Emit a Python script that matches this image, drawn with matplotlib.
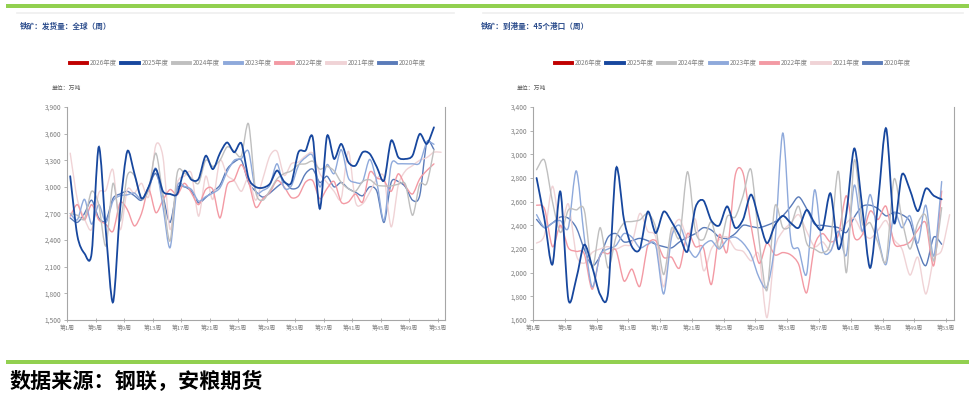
"""Iron ore weekly shipments (global) and arrivals (45 ports), seasonal lines by year."""

import matplotlib
import matplotlib.pyplot as plt
from matplotlib.lines import Line2D
from matplotlib.patches import PathPatch, Rectangle
from matplotlib.path import Path
from matplotlib.ticker import FuncFormatter, MultipleLocator

matplotlib.use("Agg")
plt.rcParams["font.family"] = ["Noto Sans CJK SC", "DejaVu Sans"]

YEARS = ["2026年度", "2025年度", "2024年度", "2023年度", "2022年度", "2021年度", "2020年度"]
COLORS = ["#C00000", "#17479E", "#BFBFBF", "#8EA9DB", "#F39AA4", "#F0D3D6", "#5A7BB9"]
WEEK_TICKS = list(range(1, 54, 4))
WEEK_LABELS = [f"第{w}周" for w in WEEK_TICKS]

# 发货量：全球（万吨）
ship_2026 = []
ship_2025 = [3120, 2450, 2250, 2250, 3450, 2500, 1700, 2750, 3400, 3150,
             2870, 3000, 3200, 2950, 2920, 2920, 3180, 3080, 3090, 3350,
             3200, 3380, 3500, 3390, 3490, 3100, 3000, 2990, 3035, 3184,
             3060, 3046, 3390, 3409, 3559, 2753, 3570, 3315, 3484, 3278,
             3240, 3390, 3372, 3222, 3072, 3521, 3334, 3315, 3353, 3596,
             3484, 3671]
ship_2024 = [2700, 2680, 2640, 2950, 2800, 2335, 3040, 2615, 3125, 3125,
             2860, 2970, 3380, 2900, 2390, 3155, 3155, 3100, 3040, 3300,
             3230, 3300, 3450, 3400, 3350, 3710, 2950, 2850, 2960, 3090,
             3150, 3180, 3250, 3260, 3290, 3200, 3230, 3180, 3050, 2980,
             2950, 3060, 3080, 3020, 3010, 3010, 3030, 3030, 2680, 3030,
             3040, 3420]
ship_2023 = [2700, 2630, 2860, 2580, 2800, 2600, 2840, 2900, 2910, 2930,
             2860, 2970, 3210, 2780, 2315, 3000, 3005, 2970, 2840, 2890,
             2930, 2990, 3170, 3300, 3320, 3400, 2950, 2960, 3020, 3260,
             2990, 3010, 3240, 3330, 3350, 3000, 3250, 3150, 3420, 3100,
             3050, 3060, 3310, 3050, 2620, 3250, 3260, 3260, 3260, 3270,
             3500, 3480]
ship_2022 = [2670, 2800, 2630, 2800, 2630, 2580, 2500, 2820, 2745, 2560,
             2700, 2970, 2710, 2850, 2970, 2910, 3040, 2930, 2800, 2970,
             2970, 2650, 3020, 3080, 3250, 3060, 2772, 2866, 2940, 3072,
             3000, 2880, 2900, 3053, 3070, 2866, 2980, 3060, 2828, 2830,
             2920, 2830, 3165, 3100, 3070, 2950, 3147, 3010, 2920, 3090,
             3184, 3259]
ship_2021 = [3380, 2860, 2640, 2520, 2930, 2960, 3190, 2520, 2970, 2930,
             3040, 2890, 3470, 3340, 2520, 3040, 3120, 3150, 2670, 3120,
             2860, 3300, 3130, 3070, 2950, 3100, 2850, 3090, 3350, 3400,
             3130, 3260, 3280, 3350, 3380, 3150, 3050, 2950, 2870, 3400,
             2830, 2810, 2940, 3090, 3110, 2550, 3020, 3180, 3240, 3300,
             3330, 3390, 3390]
ship_2020 = [2650, 2600, 2700, 2850, 2650, 2620, 2870, 2920, 2950, 2900,
             2850, 3000, 3150, 2900, 2600, 2980, 3000, 2950, 2820, 2880,
             2950, 3020, 3200, 3280, 3300, 3050, 2950, 2885, 2930, 3000,
             3050, 2980, 3000, 3150, 3200, 3050, 3120, 3000, 3050, 2980,
             2940, 2900, 3000, 2950, 2600, 3050, 3060, 3000, 2850, 2900,
             3500, 3420]

# 到港量：45个港口（万吨）
arrive_2026 = []
arrive_2025 = [2800, 2450, 2070, 2685, 1775, 1950, 2236, 2050, 1815, 1830,
               2880, 2450, 2220, 2200, 2516, 2335, 2516, 2430, 2310, 2180,
               2550, 2610, 2440, 2400, 2560, 2380, 2450, 2660, 2450, 2250,
               2400, 2480, 2420, 2380, 2530, 2420, 2370, 2670, 2200, 2500,
               3050, 2550, 2040, 2600, 3220, 2420, 2830, 2700, 2520, 2710,
               2650, 2620]
arrive_2024 = [2870, 2950, 2600, 2340, 2530, 2530, 2530, 2040, 2380, 2040,
               2300, 2420, 2432, 2446, 2500, 2380, 1984, 2376, 2300, 2853,
               2350, 2280, 2430, 2210, 2474, 2470, 2650, 2870, 2280, 1850,
               2560, 2380, 2400, 2560, 2250, 2200, 2170, 2260, 2856, 2000,
               2950, 2420, 2420, 2250, 2100, 2790, 2450, 2200, 2420, 2480,
               2100, 2550]
arrive_2023 = [2490, 2380, 2420, 2440, 2380, 2860, 2300, 1880, 2150, 2200,
               2230, 2330, 2300, 2210, 2240, 2230, 1820, 2300, 2400, 2220,
               2130, 2230, 2270, 2200, 2280, 2300, 2250, 2150, 1960, 1880,
               2250, 3180, 2280, 2200, 1990, 2700, 2200, 2180, 2350, 2150,
               2740, 2350, 2660, 2300, 2070, 2500, 2380, 2480, 2250, 2570,
               2140, 2770]
arrive_2022 = [2570, 2540, 2220, 2400, 2210, 2180, 2160, 1860, 2150, 2160,
               2190, 1930, 2030, 1885, 2230, 2270, 2130, 2130, 2040, 2330,
               2220, 2210, 1900, 2320, 2180, 2820, 2840, 2400, 2080, 2250,
               2150, 2170, 2150, 2070, 1830, 2230, 2330, 2260, 2320, 2650,
               2300, 2320, 2520, 2450, 2560, 2250, 2230, 2260, 2360, 2420,
               2060, 2690]
arrive_2021 = [2250, 2320, 2730, 2380, 2580, 2150, 2080, 2170, 2200, 2220,
               2200, 2230, 2250, 2500, 2350, 2300, 1880, 2330, 2450, 2300,
               2450, 2020, 2200, 2280, 2300, 2200, 2180, 2100, 2150, 1620,
               2200, 2350, 2420, 2490, 2350, 2220, 2260, 2190, 2330, 2420,
               2460, 2340, 2290, 2360, 2440, 2280, 2200, 1980, 2130, 1820,
               2120, 2190, 2490]
arrive_2020 = [2450, 2380, 2420, 2470, 2460, 2380, 2200, 2060, 2140, 2300,
               2330, 2260, 2270, 2290, 2270, 2240, 2220, 2210, 2260, 2300,
               2330, 2380, 2360, 2300, 2290, 2330, 2400, 2390, 2380, 2400,
               2430, 2480, 2560, 2640, 2540, 2410, 2400, 2390, 2380, 2340,
               2470, 2560, 2570, 2540, 2480, 2510, 2490, 2430, 2200, 2060,
               2300, 2240]

GREEN = "#92D050"
TITLE_COLOR = "#2B4C8C"
TEXT_GRAY = "#7F7F7F"
SPINE_GRAY = "#A6A6A6"
W, H = 969, 394


def smooth_path(xs, ys, tension=7.0):
    """Smooth curve through the points (Catmull-Rom style cubic Bezier segments)."""
    n = len(xs)
    verts = [(xs[0], ys[0])]
    codes = [Path.MOVETO]
    for i in range(n - 1):
        a = max(i - 1, 0)
        d = min(i + 2, n - 1)
        c1 = (xs[i] + (xs[i + 1] - xs[a]) / tension, ys[i] + (ys[i + 1] - ys[a]) / tension)
        c2 = (xs[i + 1] - (xs[d] - xs[i]) / tension, ys[i + 1] - (ys[d] - ys[i]) / tension)
        verts += [c1, c2, (xs[i + 1], ys[i + 1])]
        codes += [Path.CURVE4] * 3
    return Path(verts, codes)


def draw_panel(fig, rect, series, ymin, ymax, ystep, title, title_x, legend_x, unit_x):
    ax = fig.add_axes(rect)
    # draw oldest first so 2025 sits on top
    for values, color in reversed(list(zip(series, COLORS))):
        if not values:
            continue
        xs = [w + 0.45 for w in range(1, len(values) + 1)]
        lw = 1.3 if color == COLORS[1] else 1.0
        ax.add_patch(PathPatch(smooth_path(xs, values), facecolor="none",
                               edgecolor=color, linewidth=lw, capstyle="round"))
    ax.set_xlim(1, 54)
    ax.set_ylim(ymin, ymax)
    ax.yaxis.set_major_locator(MultipleLocator(ystep))
    ax.yaxis.set_major_formatter(FuncFormatter(lambda v, _: f"{v:,.0f}"))
    ax.set_xticks(WEEK_TICKS)
    ax.set_xticklabels(WEEK_LABELS)
    ax.tick_params(axis="y", labelsize=4.8, colors=SPINE_GRAY, labelcolor=TEXT_GRAY,
                   length=2.5, width=0.6, pad=1.5)
    ax.tick_params(axis="x", labelsize=4.2, colors=SPINE_GRAY, labelcolor=TEXT_GRAY,
                   length=3, width=0.6, pad=2, direction="inout")
    ax.spines["top"].set_visible(False)
    for side in ("left", "bottom", "right"):
        ax.spines[side].set_color(SPINE_GRAY)
        ax.spines[side].set_linewidth(0.8)

    fig.text(title_x / W, 1 - 26 / H, title, color=TITLE_COLOR, fontsize=5.5,
             fontweight="bold", ha="left", va="center")
    fig.text(unit_x / W, 1 - 88 / H, "单位：万吨", color="#595959", fontsize=4.2,
             ha="left", va="center")
    handles = [Line2D([], [], color=c, linewidth=2.8) for c in COLORS]
    fig.legend(handles, YEARS, loc="center", bbox_to_anchor=(legend_x / W, 1 - 63 / H),
               ncol=7, frameon=False, fontsize=4.6, handlelength=2.7,
               handletextpad=0.45, columnspacing=0.7, labelcolor=TEXT_GRAY)
    return ax


fig = plt.figure(figsize=(W / 100, H / 100), dpi=100)
fig.patch.set_facecolor("white")

# green separator bars and thin gray header lines
fig.patches.append(Rectangle((6 / W, 1 - 8 / H), 1 - 6 / W, 4 / H, transform=fig.transFigure,
                             facecolor=GREEN, edgecolor="none"))
fig.patches.append(Rectangle((6 / W, 1 - 363.5 / H), 1 - 6 / W, 3.5 / H, transform=fig.transFigure,
                             facecolor=GREEN, edgecolor="none"))
fig.add_artist(Line2D([17 / W, 454 / W], [1 - 13 / H, 1 - 13 / H], color="#EFEFEF", linewidth=1.2))
fig.add_artist(Line2D([483 / W, 963 / W], [1 - 13 / H, 1 - 13 / H], color="#EFEFEF", linewidth=1.2))

ship_series = [ship_2026, ship_2025, ship_2024, ship_2023, ship_2022, ship_2021, ship_2020]
arrive_series = [arrive_2026, arrive_2025, arrive_2024, arrive_2023, arrive_2022,
                 arrive_2021, arrive_2020]

draw_panel(fig, [67 / W, 1 - 320 / H, (445 - 67) / W, 213 / H], ship_series,
           1500, 3900, 300, "铁矿：发货量：全球（周）", 20, 248, 52)
draw_panel(fig, [533 / W, 1 - 320 / H, (954 - 533) / W, 213 / H], arrive_series,
           1600, 3400, 200, "铁矿：到港量：45个港口（周）", 481, 733, 517)

fig.text(10 / W, 1 - 381 / H, "数据来源：钢联，安粮期货", fontsize=15.2, fontweight="bold",
         color="black", ha="left", va="center")

fig.savefig("out.png", dpi=100, facecolor="white")
plt.close(fig)
